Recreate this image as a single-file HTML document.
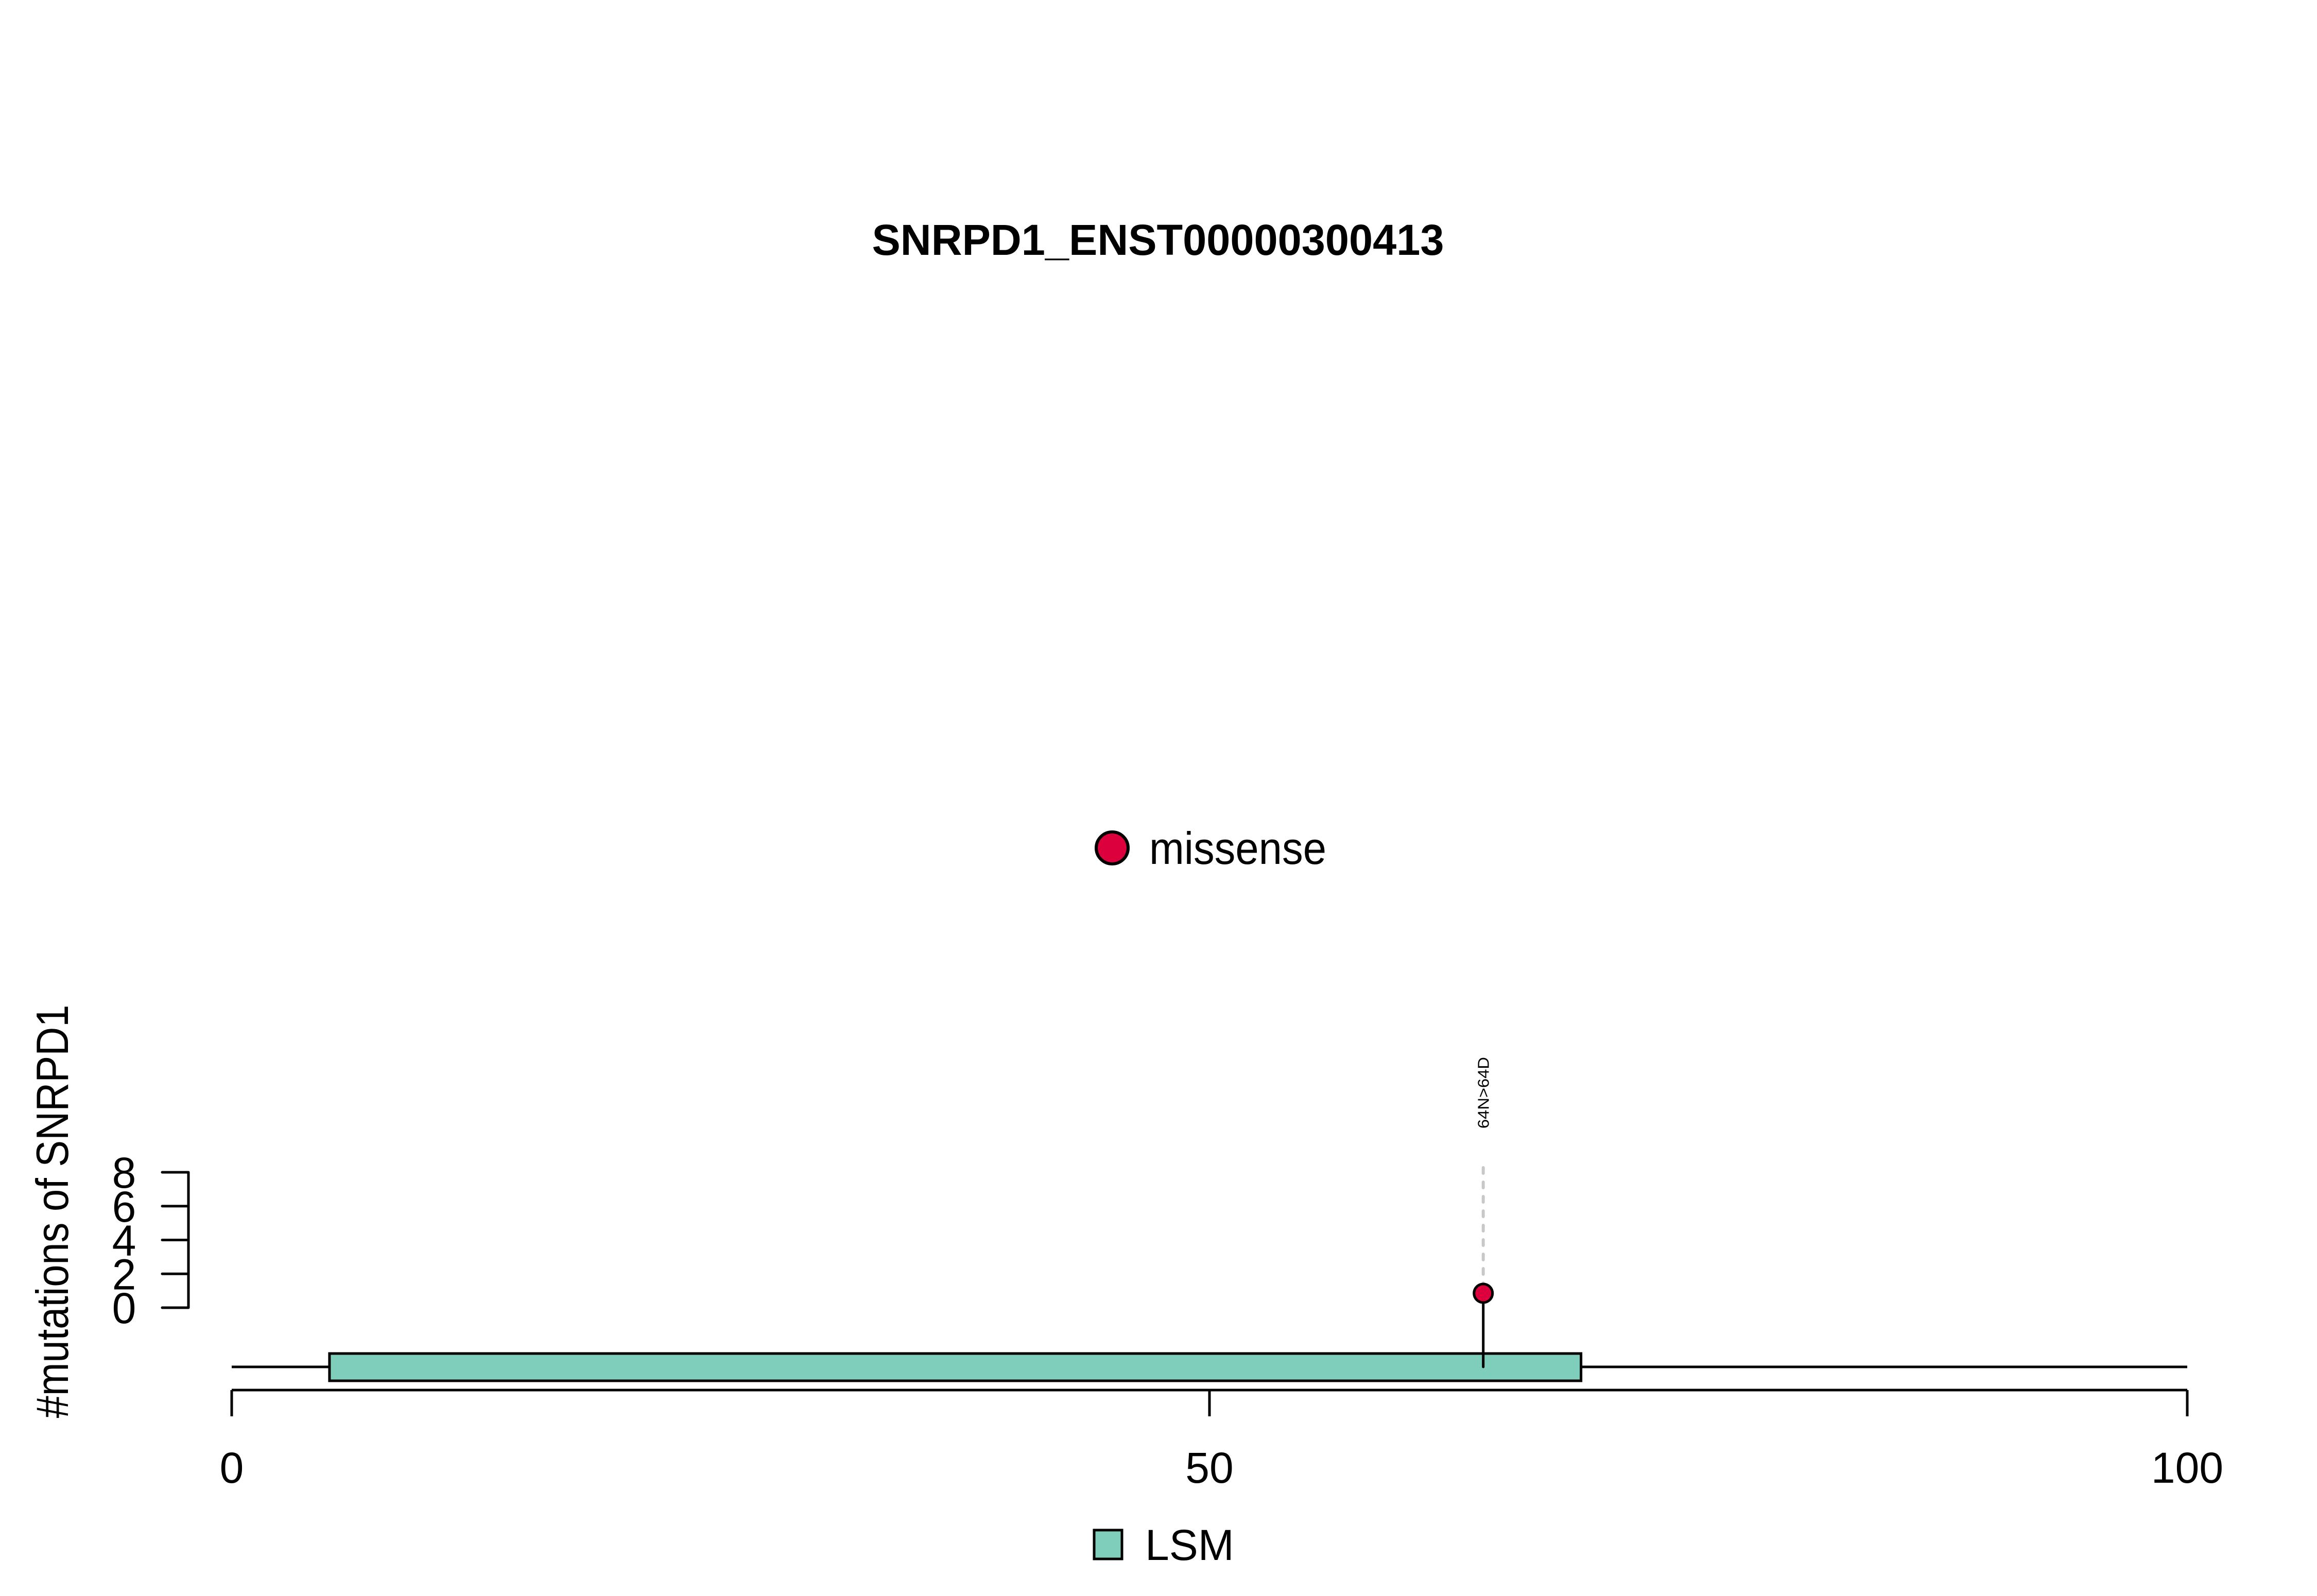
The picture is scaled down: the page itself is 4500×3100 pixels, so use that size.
<!DOCTYPE html>
<html><head><meta charset="utf-8"><style>html,body{margin:0;padding:0;background:#fff}svg{display:block}text{font-family:"Liberation Sans",Arial,sans-serif}</style></head>
<body>
<svg id="chart" xmlns="http://www.w3.org/2000/svg" width="4500" height="3100" viewBox="0 0 4500 3100">
<rect width="4500" height="3100" fill="#fff"/>
<text x="2249" y="495" text-anchor="middle" font-size="84" font-weight="bold" textLength="1111" lengthAdjust="spacingAndGlyphs">SNRPD1_ENST00000300413</text>
<g>
<circle cx="2160" cy="1647" r="31" fill="#DC003C" stroke="#000" stroke-width="6"/>
<text x="2232" y="1678" font-size="88" textLength="344" lengthAdjust="spacingAndGlyphs">missense</text>
</g>
<text transform="translate(132,2353) rotate(-90)" text-anchor="middle" font-size="88" textLength="803" lengthAdjust="spacingAndGlyphs">#mutations of SNRPD1</text>
<g id="yaxis"></g>
<g id="xaxis"></g>
<g id="protein"></g>
<g id="muts"></g>
<g>
<rect x="2125" y="2972" width="54" height="56" fill="#7FCDBB" stroke="#000" stroke-width="5"/>
<text x="2224" y="3030" font-size="84">LSM</text>
</g>
</svg>
<script>
const xTicks = [0, 50, 100];
const yTicks = [0, 2, 4, 6, 8];
const proteinLength = [100];
const domainNames = ["LSM"];
const domainStarts = [5];
const domainEnds = [69];
const mutPositions = [64];
const mutCounts = [0.85];
const mutLabels = ["64N>64D"];

const NS = "http://www.w3.org/2000/svg";
const X0 = 450, X1 = 4248;
function xs(v){ return X0 + (X1 - X0) * v / 100; }
const Y0 = 2540, Y8 = 2277;
function ys(v){ return Y0 + (Y8 - Y0) * v / 8; }
function mk(tag, attrs, parent){ const e = document.createElementNS(NS, tag); for (const k in attrs) e.setAttribute(k, attrs[k]); parent.appendChild(e); return e; }

const xa = document.getElementById('xaxis');
let l = mk('line', {x1: xs(xTicks[0]), x2: xs(xTicks[xTicks.length-1]), y1: 2700, y2: 2700, stroke: '#000', 'stroke-width': 5}, xa);


xTicks.forEach(t => {
  const tk = mk('line', {x1: xs(t), x2: xs(t), y1: 2700, y2: 2751, stroke: '#000', 'stroke-width': 5}, xa);
  
  
  const tx = mk('text', {x: xs(t), y: 2880, 'text-anchor': 'middle', 'font-size': 84}, xa);
  tx.textContent = t;
  
  
});

const ya = document.getElementById('yaxis');
l = mk('line', {x1: 366, x2: 366, y1: ys(yTicks[0]), y2: ys(yTicks[yTicks.length-1]), stroke: '#000', 'stroke-width': 5}, ya);


yTicks.forEach(t => {
  const tk = mk('line', {x1: 315, x2: 366, y1: ys(t), y2: ys(t), stroke: '#000', 'stroke-width': 5, 'stroke-linecap': 'round'}, ya);
  
  
  const tx = mk('text', {x: 241, y: ys(t) + 30, 'text-anchor': 'middle', 'font-size': 84}, ya);
  tx.textContent = t;
  
  
});

const pr = document.getElementById('protein');
const PY = 2655;
l = mk('line', {x1: xs(0), x2: xs(proteinLength[0]), y1: PY, y2: PY, stroke: '#000', 'stroke-width': 5}, pr);


domainNames.forEach((n, i) => {
  const r = mk('rect', {x: xs(domainStarts[i]), y: 2629, width: xs(domainEnds[i]) - xs(domainStarts[i]), height: 53, fill: '#7FCDBB', stroke: '#000', 'stroke-width': 5}, pr);
  
  
});

const mu = document.getElementById('muts');
mutPositions.forEach((p, i) => {
  const x = xs(p), y = ys(mutCounts[i]);
  const d = mk('line', {x1: x, x2: x, y1: 2268, y2: y, stroke: '#c8c8c8', 'stroke-width': 6, 'stroke-dasharray': '11 17', 'stroke-linecap': 'round'}, mu);
  
  
  const s = mk('line', {x1: x, x2: x, y1: y, y2: PY, stroke: '#000', 'stroke-width': 5, 'stroke-linecap': 'round'}, mu);
  
  
  const c = mk('circle', {cx: x, cy: y, r: 18, fill: '#DC003C', stroke: '#000', 'stroke-width': 5}, mu);
  
  
  const t = mk('text', {transform: 'translate(' + (x + 11) + ',2192) rotate(-90)', 'font-size': 31, textLength: 139, lengthAdjust: 'spacingAndGlyphs'}, mu);
  t.textContent = mutLabels[i];
  
  
});
</script>
</body></html>
